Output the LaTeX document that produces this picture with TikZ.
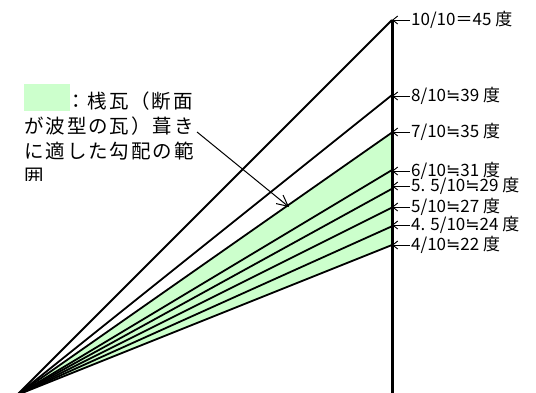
\documentclass[tikz,border=0pt]{standalone}
\usepackage{fontspec}
\newfontfamily\jpfont{Noto Sans CJK JP}
\newfontfamily\jplegend[LetterSpace=10]{Noto Sans CJK JP}
\newfontfamily\symfont{DejaVu Sans}
\newcommand{\nearly}{{\symfont ≒}}
\usetikzlibrary{arrows.meta}
\definecolor{tilegreen}{RGB}{204,255,204}

\begin{document}
\begin{tikzpicture}[x=1pt, y=-1pt,
    ray/.style={line width=1.8pt},
    scale line/.style={line width=3pt},
    pitch/.style={font=\jpfont\fontsize{17}{20}\selectfont, anchor=west, inner sep=1pt},
    tick/.style={-{Straight Barb[length=5pt,width=8pt]}, line width=0.9pt},
    pointer/.style={-{Straight Barb[length=11pt,width=11pt]}, line width=1pt}]
    \useasboundingbox (0,0) rectangle (536,392);

    % Origin and points on the vertical scale
    \coordinate (O) at (17,395);
    \coordinate (top) at (392,20);
    \coordinate (bot) at (392,400);
    \coordinate (r10) at (392,20);
    \coordinate (r8) at (392,95);
    \coordinate (r7) at (392,132.5);
    \coordinate (r6) at (392,170);
    \coordinate (r55) at (392,188.75);
    \coordinate (r5) at (392,207.5);
    \coordinate (r45) at (392,226.25);
    \coordinate (r4) at (392,245);

    % Range suited to pantiles
    \fill[tilegreen] (O) -- (r7) -- (r4) -- cycle;

    % Rays
    \draw[ray] (O) -- (r10);
    \draw[ray] (O) -- (r8);
    \draw[ray] (O) -- (r7);
    \draw[ray] (O) -- (r6);
    \draw[ray] (O) -- (r55);
    \draw[ray] (O) -- (r5);
    \draw[ray] (O) -- (r45);
    \draw[ray] (O) -- (r4);
    \draw[scale line] (top) -- (bot);

    % Pitch labels
    \node[pitch] (l10) at (410,20) {10/10＝45 度};
    \node[pitch] (l8) at (410,96) {8/10\nearly39 度};
    \node[pitch] (l7) at (410,132) {7/10\nearly35 度};
    \node[pitch] (l6) at (410,171) {6/10\nearly31 度};
    \node[pitch] (l55) at (410,186) {5. 5/10\nearly29 度};
    \node[pitch] (l5) at (410,207) {5/10\nearly27 度};
    \node[pitch] (l45) at (410,225) {4. 5/10\nearly24 度};
    \node[pitch] (l4) at (410,245) {4/10\nearly22 度};

    \draw[tick] (l10.west) -- (l10.west -| top);
    \draw[tick] (l8.west) -- (l8.west -| top);
    \draw[tick] (l7.west) -- (l7.west -| top);
    \draw[tick] (l6.west) -- (l6.west -| top);
    \draw[tick] (l55.west) -- (l55.west -| top);
    \draw[tick] (l5.west) -- (l5.west -| top);
    \draw[tick] (l45.west) -- (l45.west -| top);
    \draw[tick] (l4.west) -- (l4.west -| top);

    % Legend
    \node[fill=tilegreen, minimum width=46pt, minimum height=27pt, inner sep=0, anchor=north west] (swatch) at (24,84) {};
    \begin{scope}
        \clip (0,0) rectangle (260,180);
        \node[font=\jplegend\fontsize{19.5}{25}\selectfont, align=left, anchor=north west, inner sep=0] (legend) at (24,92)
            {\hspace*{42pt}：桟瓦（断面\\が波型の瓦）葺き\\に適した勾配の範\\囲};
    \end{scope}
    \coordinate (tip) at (289,207);
    \draw[pointer] ([shift={(3,40)}]legend.north east) -- (tip);
\end{tikzpicture}
\end{document}
